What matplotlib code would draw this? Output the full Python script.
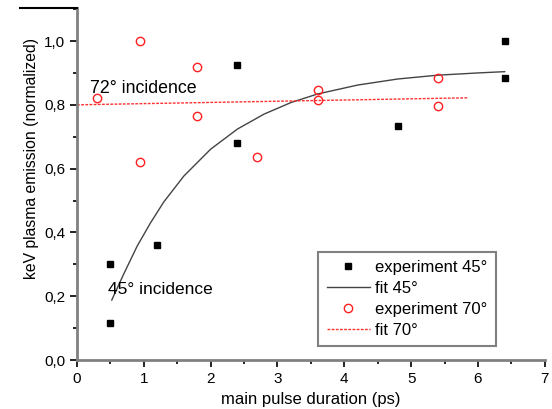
import matplotlib.pyplot as plt
from matplotlib.lines import Line2D
from matplotlib.ticker import MultipleLocator, FuncFormatter

plt.rcParams['font.family'] = ['Liberation Sans', 'DejaVu Sans']

# experiment 45 deg
x45 = [0.5, 0.5, 1.2, 2.4, 2.4, 4.8, 6.4, 6.4]
y45 = [0.30, 0.115, 0.36, 0.925, 0.68, 0.733, 1.0, 0.885]

# experiment 70 deg
x70 = [0.3, 0.95, 0.95, 1.8, 1.8, 2.7, 3.6, 3.6, 5.4, 5.4]
y70 = [0.82, 1.0, 0.62, 0.92, 0.765, 0.636, 0.846, 0.815, 0.884, 0.796]

# fit curves
fit45_x = [0.52, 0.7, 0.9, 1.1, 1.3, 1.6, 2.0, 2.4, 2.8, 3.2, 3.6, 4.2, 4.8, 5.4, 6.0, 6.4]
fit45_y = [0.188, 0.27, 0.357, 0.43, 0.496, 0.577, 0.661, 0.724, 0.771, 0.807,
           0.834, 0.862, 0.881, 0.893, 0.900, 0.904]
fit70_x = [0.0, 5.85]
fit70_y = [0.80, 0.822]

fig = plt.figure(figsize=(5.52, 4.09), dpi=100)
ax = fig.add_axes([0.1395, 0.1198, 0.8475, 0.8602])

ax.plot(x45, y45, 's', color='black', ms=5, label='experiment 45°', zorder=3)
ax.plot(fit45_x, fit45_y, '-', color='#444444', lw=1.0, label='fit 45°')
ax.plot(x70, y70, 'o', mfc='none', mec='#ff2020', mew=1.0, ms=6,
        label='experiment 70°', zorder=3)
ax.plot(fit70_x, fit70_y, '--', color='#ff3030', lw=1.0, dashes=(2, 1),
        label='fit 70°')

ax.text(0.19, 0.852, '72° incidence', fontsize=12.8, va='center')
ax.text(0.46, 0.222, '45° incidence', fontsize=12.5, va='center')

ax.set_xlim(0, 7)
ax.set_ylim(0, 1.103)
ax.xaxis.set_major_locator(MultipleLocator(1))
ax.xaxis.set_minor_locator(MultipleLocator(0.5))
ax.yaxis.set_major_locator(MultipleLocator(0.2))
ax.yaxis.set_minor_locator(MultipleLocator(0.1))
ax.yaxis.set_major_formatter(FuncFormatter(lambda v, p: f'{v:.1f}'.replace('.', ',')))

for s in ['top', 'right']:
    ax.spines[s].set_visible(False)
for s in ['left', 'bottom']:
    ax.spines[s].set_color('#808080')
    ax.spines[s].set_linewidth(2)
ax.tick_params(which='major', length=5, width=1.2, labelsize=11, color='black')
ax.tick_params(which='minor', length=3, width=1.2, color='black')

ax.set_xlabel('main pulse duration (ps)', fontsize=12, va='center')
ax.set_ylabel('keV plasma emission (normalized)', fontsize=11.3, va='center')
ax.xaxis.set_label_coords(0.50, -0.111)
ax.yaxis.set_label_coords(-0.098, 0.574)

leg = ax.legend(loc='lower right', bbox_to_anchor=(0.895, 0.040), borderaxespad=0,
                fontsize=12, handlelength=2.6, handletextpad=0.3, borderpad=0.5,
                labelspacing=0.35, fancybox=False, framealpha=1)
leg.get_frame().set_edgecolor('#808080')
leg.get_frame().set_linewidth(1.5)

fig.add_artist(Line2D([20 / 552, 77 / 552], [1 - 8 / 409, 1 - 8 / 409],
                      transform=fig.transFigure, color='black', lw=1.5))

fig.savefig('out.png', dpi=100)
